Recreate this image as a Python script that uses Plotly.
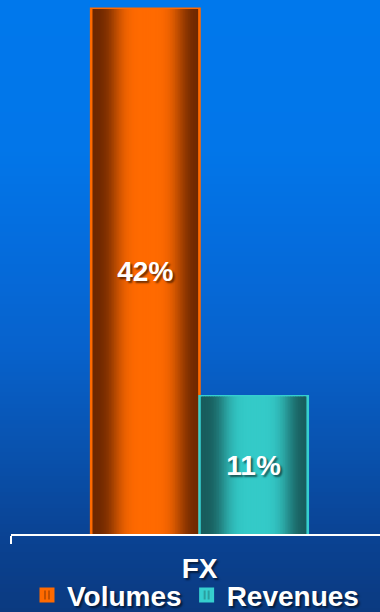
import math
import plotly.graph_objects as go

# ---- data ----
categories = ["FX"]
series_names = ["Volumes", "Revenues"]
volumes = [42]
revenues = [11]
labels_volumes = ["42%"]
labels_revenues = ["11%"]

# ---- styling ----
FONT = "Liberation Sans, Arial, sans-serif"
W, H = 380, 612
ML, MR, MT, MB = 11, 0, 0, 78
PLOT_H = H - MT - MB
Y_MAX = 42.72
X_RANGE = [-0.5, 0.478]
BAR_W = 0.286
OFFSETS = [-0.287, 0.0]

bg_profile = [(0, (0, 120, 236)), (150, (2, 118, 233)), (250, (5, 108, 220)),
              (350, (7, 98, 204)), (450, (9, 82, 174)), (540, (10, 66, 146)),
              (612, (11, 58, 128))]


def interp(profile, t):
    for (t0, c0), (t1, c1) in zip(profile[:-1], profile[1:]):
        if t0 <= t <= t1:
            f = 0 if t1 == t0 else (t - t0) / (t1 - t0)
            return tuple(round(a + (b - a) * f) for a, b in zip(c0, c1))
    return profile[-1][1]


def cyl(dark, bright, t, c=0.52, s=0.33):
    m = math.exp(-(((t - c) / s) ** 4))
    return tuple(round(d + (b - d) * m) for d, b in zip(dark, bright))


def rgb(c):
    return "rgb(%d,%d,%d)" % c


fig = go.Figure()

series = [
    (series_names[0], volumes, labels_volumes, (110, 40, 0), (255, 106, 0), "#FF6A00", "#7A3000"),
    (series_names[1], revenues, labels_revenues, (24, 92, 92), (52, 202, 200), "#36CFCF", "#1C6262"),
]

# main bars (legend + border)
for i, (name, vals, labs, dk, br, border, dark) in enumerate(series):
    fig.add_trace(go.Bar(
        x=categories, y=vals, name=name, width=BAR_W, offset=OFFSETS[i],
        marker=dict(color=border, line=dict(color=border, width=3),
                    pattern=dict(shape="|", fgcolor=dark, bgcolor=border, size=5, solidity=0.45)),
        hoverinfo="skip",
    ))

# gradient slices
N = 64
inset = 0.003
for i, (name, vals, labs, dk, br, border, dark) in enumerate(series):
    inner_w = BAR_W - 2 * inset
    step = inner_w / N
    for k in range(N):
        t = (k + 0.5) / N
        fig.add_trace(go.Bar(
            x=categories, y=vals, width=step * 1.6 if k < N - 1 else step,
            offset=OFFSETS[i] + inset + k * step,
            marker=dict(color=rgb(cyl(dk, br, t)), line=dict(width=0)),
            showlegend=False, hoverinfo="skip",
        ))

# value labels
for i, (name, vals, labs, dk, br, border, dark) in enumerate(series):
    fig.add_trace(go.Bar(
        x=categories, y=vals, width=BAR_W, offset=OFFSETS[i],
        text=labs, textposition="inside", insidetextanchor="middle",
        constraintext="none",
        textfont=dict(family=FONT, size=28, color="white", weight="bold",
                      shadow="2px 2px 2px rgba(0,0,0,0.55)"),
        marker=dict(color="rgba(0,0,0,0)", line=dict(width=0)),
        showlegend=False, hoverinfo="skip",
    ))

# background gradient strips
shapes = []
strip = 4
for py in range(0, H, strip):
    c = interp(bg_profile, py + strip / 2)
    y0 = (PLOT_H - (py + strip + 0.5)) / PLOT_H
    y1 = (PLOT_H - py) / PLOT_H
    shapes.append(dict(type="rect", xref="paper", yref="paper", x0=-0.2, x1=1.2,
                       y0=y0, y1=y1, fillcolor=rgb(c), line=dict(width=0), layer="below"))

fig.update_layout(
    width=W, height=H,
    margin=dict(l=ML, r=MR, t=MT, b=MB, autoexpand=False),
    paper_bgcolor="#0B3A80", plot_bgcolor="rgba(0,0,0,0)",
    barmode="overlay",
    shapes=shapes,
    font=dict(family=FONT, color="white"),
    xaxis=dict(type="category", range=X_RANGE, showgrid=False, zeroline=False,
               showline=True, linecolor="white", linewidth=2,
               ticks="outside", tickson="boundaries", ticklen=8, tickwidth=2, tickcolor="white",
               ticklabelstandoff=8, automargin=False,
               tickfont=dict(family=FONT, size=28, color="white", weight="bold",
                             shadow="2px 2px 2px rgba(0,0,0,0.55)"),
               fixedrange=True),
    yaxis=dict(range=[0, Y_MAX], visible=False, showgrid=False, zeroline=False, fixedrange=True),
    showlegend=True,
    legend=dict(orientation="h", x=0.5, xanchor="center", yref="paper", y=-0.115, yanchor="middle",
                bgcolor="rgba(0,0,0,0)", font=dict(family=FONT, size=28, color="white", weight="bold",
                                                   shadow="2px 2px 2px rgba(0,0,0,0.55)"),
                itemclick=False, itemdoubleclick=False, tracegroupgap=0),
)

fig.write_html("out.html", config={"displayModeBar": False},
               post_script="document.body.style.margin='0';document.body.style.overflow='hidden';")
